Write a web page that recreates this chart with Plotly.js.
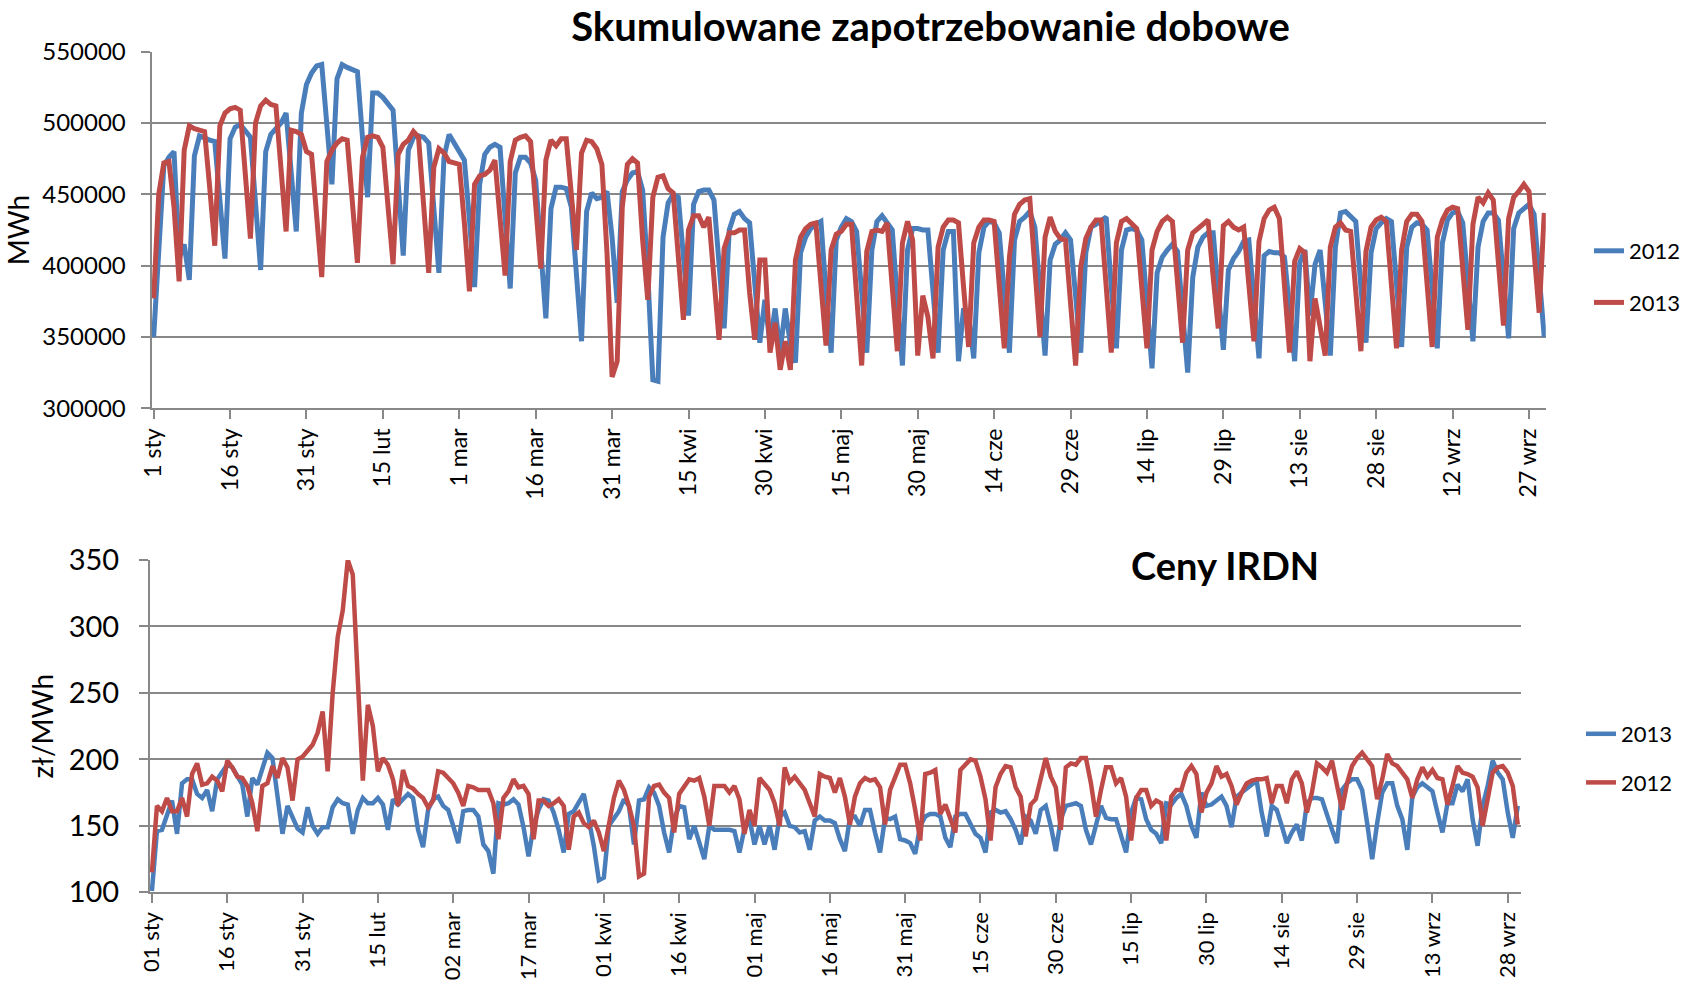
<!DOCTYPE html>
<html>
<head>
<meta charset="utf-8">
<script src="https://cdn.plot.ly/plotly-3.0.1.min.js"></script>
<style>
html, body { margin: 0; padding: 0; background: #ffffff; }
#chart { width: 1686px; height: 986px; }
</style>
</head>
<body>
<div id="chart"></div>
<script>
// ---- tick labels ----
const tickDays = [0, 15, 30, 45, 60, 75, 90, 105, 120, 135, 150, 165, 180, 195, 210, 225, 240, 255, 270];
const demandTickLabels = ['1 sty','16 sty','31 sty','15 lut','1 mar','16 mar','31 mar','15 kwi','30 kwi','15 maj','30 maj','14 cze','29 cze','14 lip','29 lip','13 sie','28 sie','12 wrz','27 wrz'];
const priceTickLabels = ['01 sty','16 sty','31 sty','15 lut','02 mar','17 mar','01 kwi','16 kwi','01 maj','16 maj','31 maj','15 cze','30 cze','15 lip','30 lip','14 sie','29 sie','13 wrz','28 wrz'];
const demandTicks = [300000, 350000, 400000, 450000, 500000, 550000];
const priceTicks = [100, 150, 200, 250, 300, 350];

// ---- Skumulowane zapotrzebowanie dobowe [MWh] ----
const demand2012 = [
350000,415000,470000,476000,480000,405000,415000,
390000,477000,491000,489000,488000,487000,446000,
405000,489000,497000,499000,495000,490000,444000,
397000,480000,492000,496000,500000,507000,465000,
424000,507000,527000,535000,540000,541000,499000,
457000,531000,541000,539000,537000,536000,490000,
448000,521000,521000,518000,514000,509000,458000,
407000,481000,490000,491000,490000,486000,441000,
395000,476000,492000,486000,480000,474000,432000,
385000,457000,478000,483000,485000,483000,437000,
384000,465000,476000,476000,472000,460000,406000,
363000,440000,455000,455000,454000,441000,395000,
347000,438000,451000,447000,448000,452000,420000,
374000,452000,460000,465000,466000,453000,395000,
320000,319000,420000,444000,450000,448000,406000,
365000,443000,452000,453000,453000,446000,399000,
356000,425000,436000,438000,433000,430000,388000,
346000,376000,345000,370000,340000,370000,345000,
332000,409000,420000,426000,429000,431000,381000,
339000,418000,427000,433000,431000,424000,383000,
339000,411000,431000,435000,430000,425000,376000,
330000,411000,426000,426000,425000,425000,378000,
339000,411000,424000,424000,333000,370000,365000,
335000,409000,427000,431000,430000,423000,381000,
339000,418000,431000,434000,438000,427000,382000,
337000,404000,415000,418000,423000,418000,376000,
339000,409000,427000,429000,431000,434000,385000,
342000,411000,425000,426000,425000,418000,374000,
328000,395000,406000,411000,415000,410000,364000,
325000,392000,413000,420000,423000,423000,380000,
341000,397000,405000,410000,417000,418000,374000,
335000,407000,410000,409000,409000,406000,368000,
333000,402000,411000,365000,401000,411000,376000,
337000,413000,437000,438000,434000,431000,385000,
346000,409000,426000,430000,433000,431000,385000,
343000,413000,427000,430000,429000,425000,382000,
342000,416000,432000,437000,438000,430000,388000,
347000,413000,431000,437000,437000,432000,390000,
349000,426000,437000,440000,443000,436000,393000,
350000
];
const demand2013 = [
377000,450000,472000,473000,441000,389000,481000,
498000,496000,495000,494000,455000,414000,498000,
507000,510000,511000,509000,462000,419000,500000,
512000,516000,513000,512000,470000,424000,495000,
494000,492000,480000,478000,437000,392000,473000,
481000,486000,489000,488000,445000,402000,476000,
490000,491000,490000,483000,443000,401000,478000,
485000,488000,494000,490000,441000,395000,469000,
482000,479000,473000,472000,471000,430000,382000,
457000,463000,464000,467000,474000,434000,393000,
473000,488000,490000,491000,487000,444000,398000,
474000,488000,484000,489000,489000,448000,411000,
479000,488000,487000,482000,471000,409000,322000,
333000,441000,471000,475000,472000,418000,376000,
448000,462000,463000,454000,451000,406000,362000,
425000,435000,435000,427000,434000,390000,348000,
412000,423000,423000,425000,425000,381000,348000,
404000,404000,339000,360000,327000,347000,327000,
404000,420000,426000,429000,430000,383000,344000,
411000,422000,424000,429000,429000,381000,330000,
410000,424000,425000,424000,430000,383000,340000,
416000,431000,418000,337000,379000,364000,335000,
413000,427000,432000,432000,430000,385000,343000,
416000,427000,432000,432000,431000,387000,342000,
406000,436000,443000,446000,447000,395000,350000,
420000,434000,424000,419000,418000,375000,330000,
399000,419000,427000,432000,432000,385000,339000,
416000,431000,433000,430000,426000,384000,342000,
411000,424000,431000,434000,431000,387000,346000,
411000,423000,426000,429000,432000,392000,356000,
428000,431000,427000,425000,427000,385000,347000,
417000,433000,439000,441000,433000,386000,339000,
403000,412000,409000,333000,377000,357000,337000,
413000,427000,430000,425000,424000,380000,340000,
410000,427000,432000,434000,431000,386000,342000,
411000,431000,436000,436000,431000,387000,343000,
420000,432000,439000,441000,440000,397000,355000,
429000,448000,444000,451000,446000,402000,358000,
433000,448000,452000,457000,452000,410000,367000,
437000
];

// ---- Ceny IRDN [zł/MWh] ----
const price2013 = [
101,146,147,157,169,144,182,
185,185,174,171,177,161,185,
191,196,194,187,181,157,186,
181,192,205,201,172,144,165,
156,148,145,164,150,144,149,
149,164,170,167,166,144,162,
171,167,167,171,166,147,170,
166,170,174,171,147,134,162,
170,172,165,162,150,137,161,
162,162,157,136,131,114,167,
166,167,170,166,149,127,150,
162,170,169,160,147,130,159,
161,167,174,155,135,109,111,
150,155,161,170,165,136,169,
170,179,175,165,145,130,155,
165,164,140,150,137,125,150,
147,147,147,147,146,130,148,
155,136,150,136,150,132,157,
160,150,149,145,146,132,154,
157,154,154,152,140,131,156,
157,150,162,162,145,130,156,
155,157,140,139,137,129,150,
157,159,159,157,141,134,157,
159,159,151,144,141,130,160,
162,160,161,155,147,136,157,
154,144,162,165,150,131,155,
165,166,167,165,147,136,151,
165,156,155,155,141,130,160,
171,170,155,147,144,137,167,
166,171,174,165,150,141,175,
165,166,169,172,165,149,172,
175,179,182,184,160,142,165,
162,150,137,145,151,139,167,
171,171,170,157,147,137,177,
182,185,185,177,152,125,152,
175,182,182,165,155,132,172,
179,182,179,176,160,145,167,
167,181,176,185,155,135,165,
180,199,190,185,160,141,165
];
const price2012 = [
115,165,161,171,161,161,171,
157,189,197,181,182,187,184,
176,199,194,187,186,180,167,
146,180,182,195,186,201,194,
169,200,202,206,211,220,236,
191,250,292,312,350,339,260,
184,241,225,191,201,196,185,
165,192,180,178,174,171,164,
169,191,190,186,182,175,165,
180,179,177,177,177,167,140,
171,176,185,179,180,174,140,
169,169,165,167,170,165,132,
157,160,152,149,154,145,131,
151,171,184,177,165,150,112,
114,172,180,181,175,171,145,
174,179,185,184,186,172,150,
180,180,180,175,180,170,144,
162,150,186,181,177,167,150,
194,183,187,182,177,167,157,
189,187,186,175,186,172,151,
172,182,186,184,185,179,151,
177,187,196,196,182,162,139,
189,190,192,159,166,155,145,
192,196,200,199,187,170,139,
179,189,195,194,179,172,142,
166,170,186,201,187,179,147,
194,197,196,201,201,182,157,
177,194,194,182,186,172,139,
171,177,177,165,169,167,139,
172,177,177,190,195,189,160,
175,182,195,187,189,180,166,
175,182,184,185,185,186,167,
180,180,167,185,191,182,160,
175,197,194,190,199,182,162,
182,195,201,205,200,195,170,
185,204,197,195,190,185,171,
185,194,187,192,186,185,166,
180,195,190,189,187,179,150,
172,190,194,195,190,180,151
];

// ---- styling ----
const BLUE = '#4A7EBB';
const RED = '#BE4B48';
const GRID = '#888888';
const FONT = 'Lato, "Open Sans", sans-serif';
const W = 1686, H = 986;
const dayIndex = arr => arr.map((_, i) => i);

const traces = [
  { x: dayIndex(demand2012), y: demand2012, name: '2012', type: 'scatter', mode: 'lines',
    line: { color: BLUE, width: 5 }, xaxis: 'x', yaxis: 'y', legend: 'legend', legendgroup: 'a' },
  { x: dayIndex(demand2013), y: demand2013, name: '2013', type: 'scatter', mode: 'lines',
    line: { color: RED, width: 5 }, xaxis: 'x', yaxis: 'y', legend: 'legend', legendgroup: 'b' },
  { x: dayIndex(price2013), y: price2013, name: '2013', type: 'scatter', mode: 'lines',
    line: { color: BLUE, width: 4.5 }, xaxis: 'x2', yaxis: 'y2', legend: 'legend2', legendgroup: 'c' },
  { x: dayIndex(price2012), y: price2012, name: '2012', type: 'scatter', mode: 'lines',
    line: { color: RED, width: 4.5 }, xaxis: 'x2', yaxis: 'y2', legend: 'legend2', legendgroup: 'd' }
];

const axisCommon = {
  showline: true, linecolor: GRID, linewidth: 2,
  ticks: 'outside', ticklen: 9, tickwidth: 2, tickcolor: GRID,
  zeroline: false, fixedrange: true
};

const layout = {
  width: W, height: H,
  margin: { l: 0, r: 0, t: 0, b: 0 },
  paper_bgcolor: '#ffffff', plot_bgcolor: '#ffffff',
  font: { family: FONT, color: '#000000' },
  title: {
    text: 'Skumulowane zapotrzebowanie dobowe',
    x: 931 / W, xanchor: 'center', xref: 'paper',
    y: 1 - 27 / H, yanchor: 'middle', yref: 'paper',
    font: { family: FONT, size: 40, weight: 'bold', color: '#000000' }
  },
  xaxis: Object.assign({}, axisCommon, {
    domain: [151.7 / W, 1546.7 / W], anchor: 'y',
    range: [-0.4, 273.3],
    tickmode: 'array', tickvals: tickDays, ticktext: demandTickLabels,
    tickangle: -90, showgrid: false,
    tickfont: { family: FONT, size: 23, color: '#000000' }
  }),
  yaxis: Object.assign({}, axisCommon, {
    domain: [1 - 408.3 / H, 1 - 51.7 / H], anchor: 'x',
    range: [300000, 550000],
    tickmode: 'array', tickvals: demandTicks, tickformat: 'd',
    showgrid: true, gridcolor: GRID, gridwidth: 2,
    ticklabelstandoff: 10,
    tickfont: { family: FONT, size: 24, color: '#000000' },
    title: { text: 'MWh', standoff: 4, font: { family: FONT, size: 28, color: '#000000' } }
  }),
  xaxis2: Object.assign({}, axisCommon, {
    domain: [150 / W, 1521.7 / W], anchor: 'y2',
    range: [-0.4, 272.6],
    tickmode: 'array', tickvals: tickDays, ticktext: priceTickLabels,
    tickangle: -90, showgrid: false,
    ticklabelstandoff: 0,
    tickfont: { family: FONT, size: 22, color: '#000000' }
  }),
  yaxis2: Object.assign({}, axisCommon, {
    domain: [1 - 892.3 / H, 1 - 560 / H], anchor: 'x2',
    range: [100, 350],
    tickmode: 'array', tickvals: priceTicks,
    showgrid: true, gridcolor: GRID, gridwidth: 2,
    ticklabelstandoff: 14,
    tickfont: { family: FONT, size: 29, color: '#000000' },
    title: { text: 'zł/MWh', standoff: 7, font: { family: FONT, size: 28, color: '#000000' } }
  }),
  legend: {
    x: 1590 / W, xanchor: 'left', y: 1 - 277 / H, yanchor: 'middle',
    font: { family: FONT, size: 22, color: '#000000' },
    bgcolor: 'rgba(0,0,0,0)', tracegroupgap: 20, traceorder: 'grouped'
  },
  legend2: {
    x: 1581 / W, xanchor: 'left', y: 1 - 758.5 / H, yanchor: 'middle',
    font: { family: FONT, size: 22, color: '#000000' },
    bgcolor: 'rgba(0,0,0,0)', tracegroupgap: 17, traceorder: 'grouped'
  },
  annotations: [{
    text: 'Ceny IRDN', xref: 'paper', yref: 'paper',
    x: 1226 / W, y: 1 - 564.5 / H, xanchor: 'center', yanchor: 'middle',
    showarrow: false,
    font: { family: FONT, size: 38, weight: 'bold', color: '#000000' }
  }]
};

Plotly.newPlot('chart', traces, layout, { displayModeBar: false, staticPlot: true });
</script>
</body>
</html>
